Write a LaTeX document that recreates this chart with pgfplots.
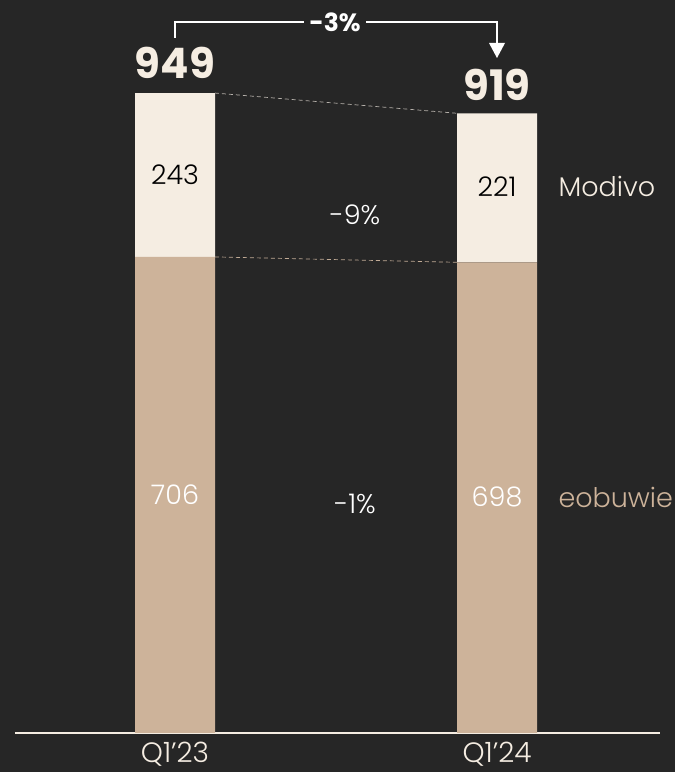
\documentclass[border=0pt]{standalone}
\usepackage{pgfplots}
\pgfplotsset{compat=1.18}
\usepackage{fontspec}
\setmainfont{Poppins}[UprightFont={* Light}, BoldFont={* Bold}]
\definecolor{bg}{HTML}{262626}
\definecolor{cream}{HTML}{F5EDE2}
\definecolor{tan}{HTML}{CDB39A}
\definecolor{dashgray}{HTML}{B5B0AA}
\begin{document}
\begin{tikzpicture}[x=1pt,y=1pt]
\fill[bg] (0,0) rectangle (675,772);
\begin{axis}[
  at={(15pt,39pt)}, anchor=south west,
  scale only axis, width=645pt, height=733pt,
  xmin=15, xmax=660, ymin=0, ymax=1087,
  hide axis, clip=false, enlargelimits=false,
  ybar stacked, bar width=80pt,
]
\addplot[fill=tan, draw=none] coordinates {(175,706) (497,698)};
\addplot[fill=cream, draw=none] coordinates {(175,243) (497,221)};
\draw[cream, line width=1.6pt] (axis cs:15,0) -- (axis cs:660,0);
\draw[dashgray, line width=0.7pt, dash pattern=on 4pt off 3pt] (axis cs:215,949) -- (axis cs:457,919);
\draw[tan!85!gray, line width=0.7pt, dash pattern=on 4pt off 3pt] (axis cs:215,706) -- (axis cs:457,698);
\end{axis}
\tikzset{lbl/.style={font=\fontsize{27}{27}\selectfont}}
% labels inside bars
\node[lbl, text=black] at (175,597) {243};
\node[lbl, text=black] at (497,585) {221};
\node[lbl, text=white] at (175,277) {706};
\node[lbl, text=white] at (497,275) {698};
% totals
\node[font=\fontsize{42}{42}\selectfont\bfseries, text=cream] at (175,709) {949};
\node[font=\fontsize{42}{42}\selectfont\bfseries, text=cream] at (497,687) {919};
% growth
\node[lbl, text=white] at (355,557) {-9\%};
\node[lbl, text=white] at (355,268) {-1\%};
% series names
\node[lbl, text=cream, anchor=west] at (555,586) {Modivo};
\node[lbl, text=tan, anchor=west] at (555,275) {eobuwie};
% categories
\node[font=\fontsize{28}{28}\selectfont, text=cream, inner sep=0pt] at (175,18) {Q1’23};
\node[font=\fontsize{28}{28}\selectfont, text=cream, inner sep=0pt] at (497,18) {Q1’24};
% bracket
\draw[white, line width=1.8pt] (175,734) -- (175,750) -- (497,750) -- (497,728);
\fill[white] (489,729) -- (505,729) -- (497,714) -- cycle;
\node[fill=bg, inner xsep=5pt, font=\fontsize{25}{25}\selectfont\bfseries, text=white] at (335,750) {-3\%};
\end{tikzpicture}
\end{document}
